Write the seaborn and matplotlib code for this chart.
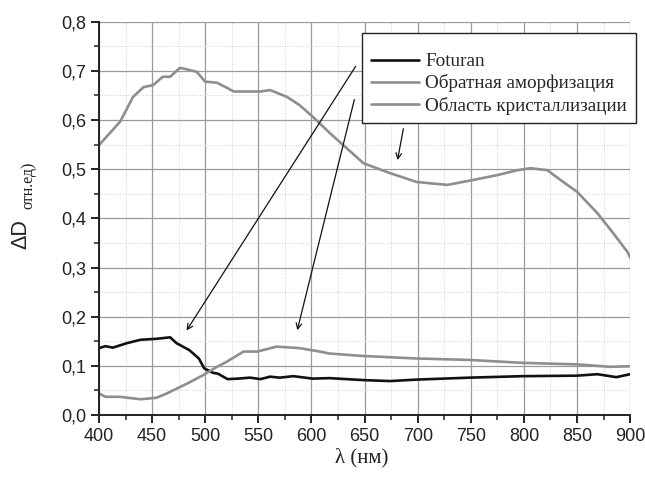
import numpy as np
import pandas as pd
import matplotlib
matplotlib.use("Agg")
import matplotlib.pyplot as plt
from matplotlib.ticker import MultipleLocator, FuncFormatter
from matplotlib.lines import Line2D
import seaborn as sns

# wavelength (nm) and dD values
wl_foturan = [400, 406, 413, 426, 439, 454, 467, 473, 485, 494, 499, 507, 512, 521, 531, 542,
              552, 561, 570, 583, 601, 617, 649, 674, 699, 749, 799, 850, 869, 887, 900]
d_foturan = [0.136, 0.140, 0.137, 0.146, 0.153, 0.155, 0.158, 0.146, 0.132, 0.115, 0.095, 0.086,
             0.084, 0.073, 0.074, 0.076, 0.073, 0.078, 0.076, 0.079, 0.074, 0.075, 0.071, 0.069,
             0.072, 0.076, 0.079, 0.080, 0.083, 0.077, 0.083]

wl_amorph = [400, 420, 432, 442, 451, 460, 467, 476, 481, 492, 500, 511, 527, 539, 552, 561,
             577, 589, 601, 617, 649, 674, 699, 728, 752, 775, 794, 806, 822, 837, 850, 869,
             884, 898, 900]
d_amorph = [0.549, 0.597, 0.647, 0.667, 0.671, 0.688, 0.688, 0.706, 0.704, 0.698, 0.678, 0.676,
            0.658, 0.658, 0.658, 0.661, 0.647, 0.630, 0.607, 0.574, 0.512, 0.492, 0.474, 0.468,
            0.478, 0.488, 0.498, 0.502, 0.498, 0.474, 0.454, 0.411, 0.370, 0.330, 0.320]

wl_cryst = [400, 406, 420, 439, 454, 464, 483, 498, 511, 520, 536, 549, 567, 589, 608, 617,
            649, 699, 749, 799, 850, 881, 898, 900]
d_cryst = [0.044, 0.037, 0.037, 0.032, 0.035, 0.044, 0.064, 0.081, 0.098, 0.108, 0.129, 0.129,
           0.139, 0.136, 0.129, 0.125, 0.120, 0.115, 0.112, 0.106, 0.103, 0.098, 0.099, 0.099]

names = ["Foturan", "Обратная аморфизация", "Область кристаллизации"]
colors = ["#111111", "#8e8e8e", "#8e8e8e"]

df = pd.concat([
    pd.DataFrame({"wl": wl_foturan, "d": d_foturan, "s": names[0]}),
    pd.DataFrame({"wl": wl_amorph, "d": d_amorph, "s": names[1]}),
    pd.DataFrame({"wl": wl_cryst, "d": d_cryst, "s": names[2]}),
])

sns.set_style("ticks")
plt.rcParams["font.family"] = ["Liberation Sans", "DejaVu Sans"]

fig = plt.figure(figsize=(6.45, 4.79), dpi=100)
ax = fig.add_axes([0.1535, 0.1336, 0.8235, 0.8211])

sns.lineplot(data=df, x="wl", y="d", hue="s", palette=dict(zip(names, colors)),
             linewidth=1.9, ax=ax, sort=False, legend=False)

ax.set_xlim(400, 900)
ax.set_ylim(0, 0.8)
ax.xaxis.set_major_locator(MultipleLocator(50))
ax.xaxis.set_minor_locator(MultipleLocator(25))
ax.yaxis.set_major_locator(MultipleLocator(0.1))
ax.yaxis.set_minor_locator(MultipleLocator(0.05))
ax.yaxis.set_major_formatter(FuncFormatter(lambda v, p: f"{v:.1f}".replace(".", ",")))
ax.grid(which="major", color="#9a9a9a", linewidth=0.9)
ax.grid(which="minor", color="#cfcfcf", linewidth=0.7, linestyle=":")
ax.set_axisbelow(True)
for s in ["top", "right"]:
    ax.spines[s].set_visible(False)
for s in ["left", "bottom"]:
    ax.spines[s].set_linewidth(1.4)
    ax.spines[s].set_color("#222222")
ax.tick_params(which="major", direction="out", length=6, width=1.4, labelsize=13,
               colors="#222222", pad=3)
ax.tick_params(which="minor", direction="out", length=3.5, width=1.1, colors="#222222")
ax.set_xlabel("")
ax.set_ylabel("")

# legend
handles = [Line2D([], [], color=c, linewidth=1.9) for c in colors]
leg = fig.legend(handles, names, loc="upper left", bbox_to_anchor=(362 / 645, 1 - 33 / 479),
                 borderaxespad=0, prop={"family": "Liberation Serif", "size": 13.8},
                 frameon=True, fancybox=False, handlelength=2.5, handletextpad=0.35,
                 labelspacing=0.22, borderpad=0.45, title=" ", title_fontsize=5)
leg.get_frame().set_edgecolor("#222222")
leg.get_frame().set_linewidth(1.0)
leg.get_frame().set_alpha(1)

# arrows
arrow = dict(arrowstyle="->", color="#111111", linewidth=0.9)
ax.annotate("", xy=(481, 0.167), xytext=(643, 0.714), arrowprops=arrow)
ax.annotate("", xy=(586, 0.167), xytext=(641, 0.647), arrowprops=arrow)
ax.annotate("", xy=(680.5, 0.513), xytext=(687, 0.588), arrowprops=arrow)

# axis titles
fig.text(21 / 645, 1 - 234 / 479, "ΔD", rotation=90, ha="center", va="center", fontsize=15.5,
         color="#222222")
fig.text(28 / 645, 1 - 185 / 479, "отн.ед)", rotation=90, ha="center", va="center",
         fontsize=11.5, family="Liberation Serif", color="#222222")
fig.text(362 / 645, 1 - 458 / 479, "λ (нм)", ha="center", va="center", fontsize=15,
         family="Liberation Serif", color="#222222")

fig.savefig("out.png", dpi=100)
